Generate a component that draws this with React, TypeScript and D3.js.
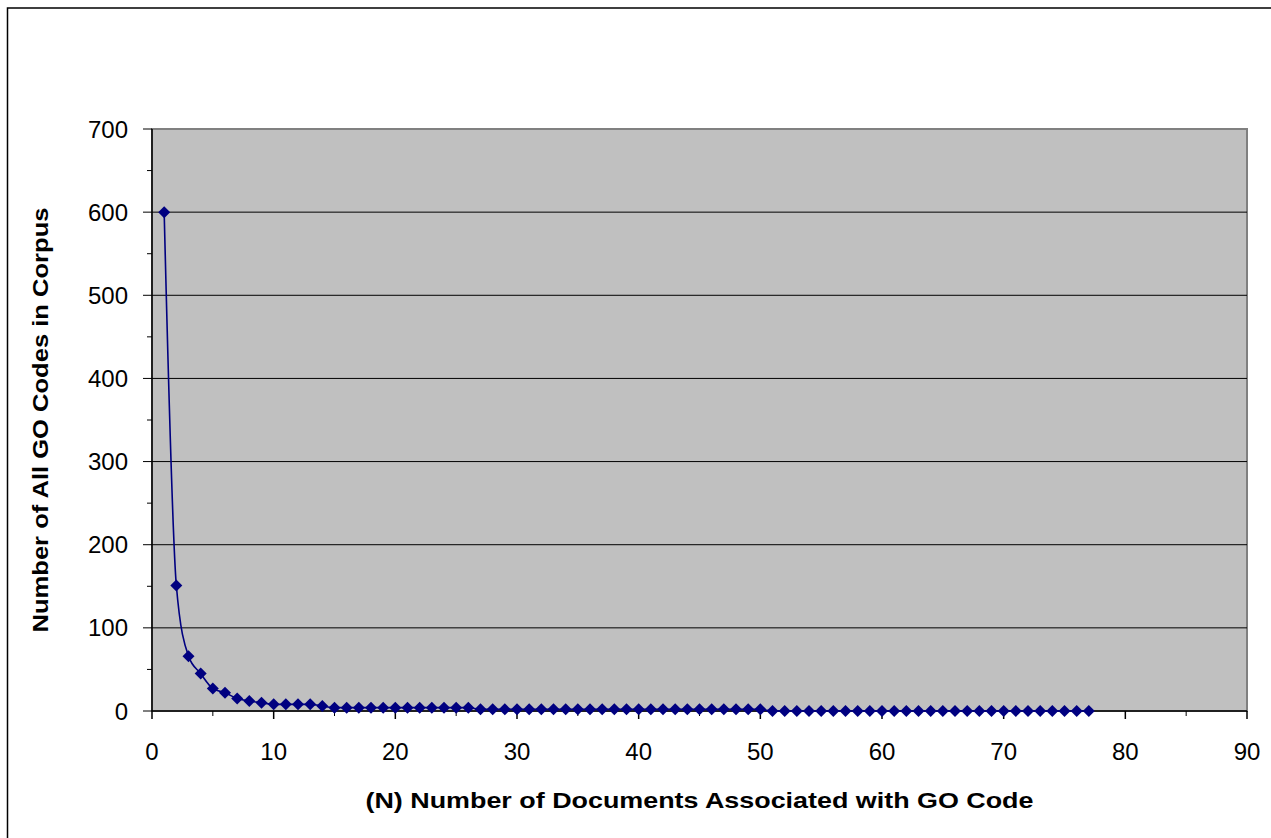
import React from "react";
import * as d3 from "d3";

// N = 1..77 (number of documents associated with a GO code)
const counts: number[] = [
  600, 151, 66, 45, 27, 22, 15, 12, 10, 8, 8, 8, 8, 6,
  4, 4, 4, 4, 4, 4, 4, 4, 4, 4, 4, 4,
  2, 2, 2, 2, 2, 2, 2, 2, 2, 2, 2, 2, 2, 2, 2, 2, 2, 2, 2, 2, 2, 2, 2, 2,
  0, 0, 0, 0, 0, 0, 0, 0, 0, 0, 0, 0, 0, 0, 0, 0, 0, 0, 0, 0, 0, 0, 0, 0, 0, 0, 0,
];
const yTicks = [0, 100, 200, 300, 400, 500, 600, 700];
const yMinor = [50, 150, 250, 350, 450, 550, 650];
const xTicks = [0, 10, 20, 30, 40, 50, 60, 70, 80, 90];
const xMinor = [5, 15, 25, 35, 45, 55, 65, 75, 85];
const xTitle = "(N) Number of Documents Associated with GO Code";
const yTitle = "Number of All GO Codes in Corpus";

const W = 1271;
const H = 838;
const L = 152, R = 1247, T = 129, B = 711;
const FONT = "'Liberation Sans', Arial, sans-serif";
const NAVY = "#000080";

export default function App() {
  const x = d3.scaleLinear().domain([0, 90]).range([L, R]);
  const y = d3.scaleLinear().domain([0, 700]).range([B, T]);
  const pts = counts.map((v, i) => ({ n: i + 1, v }));
  const line = d3
    .line<{ n: number; v: number }>()
    .x((d) => x(d.n))
    .y((d) => y(d.v))
    .curve(d3.curveMonotoneX);
  const diamond = "M0,-6L6,0L0,6L-6,0Z";

  return (
    <div style={{ position: "absolute", left: 0, top: 0 }}>
      <svg width={W} height={H} style={{ display: "block" }}>
        <rect x={0} y={0} width={W} height={H} fill="#fff" />
        <rect x={7.5} y={8} width={1300} height={900} fill="#fff" stroke="#000" strokeWidth={1.5} />
        {/* plot area */}
        <rect x={L} y={T} width={R - L} height={B - T} fill="#c0c0c0" stroke="#808080" strokeWidth={2} />
        {yTicks.filter((t) => t > 0 && t < 700).map((t) => (
          <line key={"g" + t} x1={L} x2={R} y1={y(t)} y2={y(t)} stroke="#000" strokeWidth={1} />
        ))}
        {/* axes */}
        <line x1={L} x2={L} y1={T} y2={B} stroke="#000" strokeWidth={1.5} />
        <line x1={L} x2={R} y1={B} y2={B} stroke="#000" strokeWidth={1.5} />
        {yTicks.map((t) => (
          <g key={"y" + t}>
            <line x1={L - 9} x2={L} y1={y(t)} y2={y(t)} stroke="#000" strokeWidth={1} />
            <text x={128} y={y(t)} textAnchor="end" dominantBaseline="central" fontFamily={FONT} fontSize={24} fill="#000">
              {t}
            </text>
          </g>
        ))}
        {yMinor.map((t) => (
          <line key={"ym" + t} x1={L - 5} x2={L} y1={y(t)} y2={y(t)} stroke="#000" strokeWidth={1} />
        ))}
        {xTicks.map((t) => (
          <g key={"x" + t}>
            <line x1={x(t)} x2={x(t)} y1={B} y2={B + 8} stroke="#000" strokeWidth={1.5} />
            <text x={x(t)} y={751} textAnchor="middle" dominantBaseline="central" fontFamily={FONT} fontSize={24} fill="#000">
              {t}
            </text>
          </g>
        ))}
        {xMinor.map((t) => (
          <line key={"xm" + t} x1={x(t)} x2={x(t)} y1={B} y2={B + 5} stroke="#000" strokeWidth={1} />
        ))}
        {/* series */}
        <path d={line(pts) || ""} fill="none" stroke={NAVY} strokeWidth={1.6} />
        {pts.map((d) => (
          <path key={"p" + d.n} d={diamond} transform={`translate(${x(d.n)},${y(d.v)})`} fill={NAVY} />
        ))}
        {/* titles */}
        <text
          x={(L + R) / 2}
          y={800}
          textAnchor="middle"
          dominantBaseline="central"
          fontFamily={FONT}
          fontWeight="bold"
          fontSize={22}
          textLength={668}
          lengthAdjust="spacingAndGlyphs"
          fill="#000"
        >
          {xTitle}
        </text>
        <text
          transform={`translate(40,${(T + B) / 2}) rotate(-90)`}
          textAnchor="middle"
          dominantBaseline="central"
          fontFamily={FONT}
          fontWeight="bold"
          fontSize={22}
          textLength={425}
          lengthAdjust="spacingAndGlyphs"
          fill="#000"
        >
          {yTitle}
        </text>
      </svg>
    </div>
  );
}
